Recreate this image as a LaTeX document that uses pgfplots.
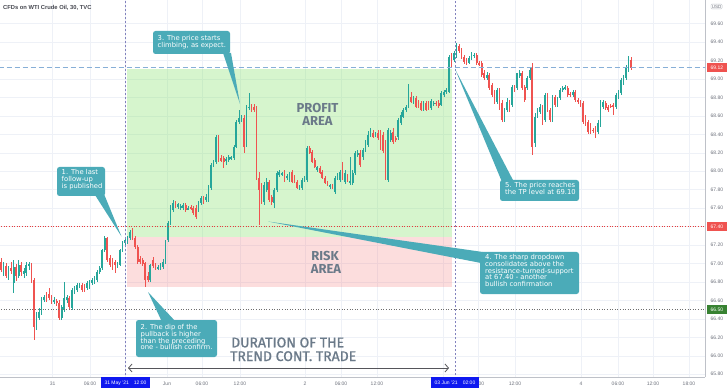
\documentclass[border=0pt]{standalone}
\usepackage{fontspec}
\setmainfont{Liberation Sans}
\newfontfamily\dejavu{DejaVu Sans}
\newfontfamily\fira{Fira Sans}
\newfontfamily\firamed{Fira Sans}[FakeBold=1]
\usepackage{pgfplots}
\pgfplotsset{compat=1.18}
\usepackage{pgfplotstable}
\usetikzlibrary{arrows.meta}

\definecolor{upc}{RGB}{38,166,154}
\definecolor{dnc}{RGB}{239,83,80}
\definecolor{gridc}{RGB}{238,241,247}
\definecolor{axisc}{RGB}{190,193,200}
\definecolor{tickc}{RGB}{110,114,125}
\definecolor{profitc}{RGB}{120,225,90}
\definecolor{riskc}{RGB}{245,120,120}
\definecolor{callc}{RGB}{75,171,184}
\definecolor{bigtxt}{RGB}{107,122,137}
\definecolor{tpc}{RGB}{135,175,215}
\definecolor{srred}{RGB}{230,60,60}
\definecolor{vlc}{RGB}{130,130,190}
\definecolor{arrc}{RGB}{85,85,90}
\definecolor{bluelab}{RGB}{15,25,240}
\definecolor{redlab}{RGB}{239,83,80}
\definecolor{greenlab}{RGB}{56,130,50}
\definecolor{titlec}{RGB}{70,72,80}
\definecolor{suppc}{RGB}{110,110,110}

\newcommand\cf{\dejavu\fontsize{6.8}{6.7}\selectfont}

\pgfplotstableread{
k o h l c
-49 67.02 67.06 66.91 66.93
-48 66.91 67.02 66.87 66.98
-47 66.97 67.01 66.84 66.87
-46 66.86 66.97 66.82 66.95
-45 66.95 67.02 66.89 66.92
-44 66.79 67.04 66.68 66.96
-43 66.96 66.99 66.81 66.86
-42 66.86 67.04 66.84 66.98
-41 66.98 67.02 66.87 66.91
-40 66.89 66.95 66.84 66.92
-39 66.90 67.02 66.86 66.98
-38 66.97 67.02 66.93 66.99
-37 66.99 67.01 66.79 66.82
-36 66.82 66.84 66.17 66.31
-35 66.31 66.47 66.28 66.44
-34 66.41 66.52 66.39 66.47
-33 66.46 66.64 66.44 66.60
-32 66.60 66.66 66.58 66.64
-31 66.64 66.69 66.58 66.60
-30 66.67 66.73 66.60 66.63
-29 66.64 66.66 66.56 66.58
-28 66.58 66.64 66.56 66.60
-27 66.59 66.61 66.54 66.57
-26 66.57 66.60 66.39 66.41
-25 66.41 66.55 66.39 66.53
-24 66.50 66.80 66.47 66.63
-23 66.60 66.66 66.57 66.64
-22 66.63 66.65 66.51 66.53
-21 66.52 66.73 66.50 66.71
-20 66.69 66.76 66.67 66.73
-19 66.71 66.79 66.69 66.77
-18 66.76 66.79 66.73 66.77
-17 66.77 66.79 66.69 66.71
-16 66.76 66.78 66.69 66.71
-15 66.73 66.81 66.71 66.79
-14 66.75 66.82 66.72 66.80
-13 66.79 66.84 66.77 66.82
-12 66.80 66.86 66.78 66.84
-11 66.82 66.93 66.80 66.91
-10 66.91 66.97 66.89 66.95
-9 66.95 67.16 66.93 67.15
-8 67.15 67.30 67.12 67.28
-7 67.28 67.29 67.02 67.04
-6 67.06 67.09 66.96 66.98
-5 67.04 67.06 66.93 66.96
-4 67.02 67.04 66.90 66.98
-3 66.97 67.02 66.95 66.99
-2 66.98 67.16 66.97 67.15
-1 67.15 67.24 67.12 67.22
0 67.22 67.29 67.20 67.25
1 67.23 67.30 67.21 67.28
2 67.28 67.36 67.25 67.34
3 67.34 67.38 67.25 67.28
4 67.28 67.30 67.16 67.18
5 67.18 67.20 66.99 67.02
6 67.05 67.08 66.99 67.02
7 67.04 67.06 66.97 66.99
8 67.01 67.02 66.75 66.82
9 66.87 66.91 66.80 66.82
10 66.82 66.99 66.80 66.98
11 67.04 67.07 66.95 66.97
12 66.98 67.01 66.93 66.95
13 66.95 66.98 66.93 66.96
14 66.95 67.01 66.93 66.98
15 66.96 67.05 66.94 67.02
16 67.02 67.25 66.99 67.23
17 67.25 67.46 67.23 67.44
18 67.44 67.63 67.42 67.61
19 67.58 67.69 67.56 67.66
20 67.66 67.68 67.60 67.62
21 67.61 67.66 67.59 67.64
22 67.60 67.65 67.58 67.62
23 67.60 67.66 67.58 67.63
24 67.63 67.66 67.56 67.58
25 67.59 67.62 67.58 67.60
26 67.61 67.63 67.58 67.60
27 67.60 67.62 67.53 67.55
28 67.60 67.63 67.48 67.50
29 67.58 67.68 67.56 67.66
30 67.66 67.73 67.63 67.71
31 67.71 67.73 67.65 67.67
32 67.69 67.75 67.67 67.72
33 67.69 67.85 67.67 67.83
34 67.82 68.09 67.80 68.07
35 68.07 68.12 68.05 68.10
36 68.10 68.39 68.08 68.37
37 68.37 68.39 68.10 68.12
38 68.14 68.18 68.10 68.11
39 68.14 68.17 68.04 68.10
40 68.12 68.15 68.07 68.13
41 68.12 68.18 68.10 68.15
42 68.14 68.17 68.12 68.15
43 68.14 68.28 68.12 68.26
44 68.26 68.56 68.25 68.53
45 68.53 68.66 68.51 68.58
46 68.57 68.61 68.53 68.58
47 68.58 68.61 68.20 68.26
48 68.28 68.72 68.26 68.70
49 68.69 68.85 68.66 68.70
50 68.70 68.73 68.64 68.67
51 68.70 68.73 68.64 68.66
52 68.69 68.71 67.90 67.93
53 67.93 67.99 67.42 67.80
54 67.83 67.87 67.65 67.67
55 67.67 67.88 67.63 67.85
56 67.80 67.93 67.78 67.88
57 67.88 67.91 67.67 67.69
58 67.72 67.74 67.63 67.67
59 67.66 67.82 67.60 67.80
60 67.80 68.00 67.78 67.98
61 67.96 68.01 67.94 67.99
62 67.97 67.99 67.95 67.98
63 67.98 68.01 67.88 67.91
64 67.93 67.97 67.91 67.95
65 67.91 67.99 67.88 67.98
66 67.99 68.01 67.87 67.88
67 67.94 67.96 67.87 67.88
68 67.88 67.91 67.81 67.82
69 67.82 67.85 67.80 67.83
70 67.82 67.93 67.80 67.91
71 67.91 67.95 67.88 67.93
72 67.91 68.27 67.88 68.25
73 68.25 68.27 68.19 68.20
74 68.21 68.23 68.09 68.10
75 68.12 68.14 68.04 68.05
76 68.01 68.06 67.99 68.05
77 68.04 68.06 67.97 67.98
78 67.99 68.01 67.92 67.93
79 67.93 67.95 67.86 67.87
80 67.87 67.89 67.84 67.85
81 67.83 67.86 67.81 67.85
82 67.85 67.86 67.81 67.82
83 67.78 67.95 67.75 67.93
84 67.93 67.98 67.91 67.96
85 67.91 68.01 67.88 67.99
86 67.98 68.10 67.91 67.92
87 67.88 68.01 67.86 67.98
88 67.94 67.97 67.88 67.91
89 67.87 68.15 67.85 67.89
90 67.87 68.01 67.85 67.98
91 67.98 68.22 67.96 68.20
92 68.18 68.23 68.15 68.20
93 68.20 68.23 68.05 68.07
94 68.15 68.25 68.12 68.23
95 68.23 68.34 68.21 68.31
96 68.28 68.44 68.26 68.39
97 68.39 68.47 68.37 68.45
98 68.41 68.45 68.36 68.37
99 68.39 68.43 68.37 68.41
100 68.41 68.45 68.34 68.36
101 68.41 68.45 68.23 68.26
102 68.39 68.43 68.20 68.22
103 68.20 68.34 67.90 67.93
104 67.90 68.47 67.88 68.45
105 68.34 68.45 68.32 68.41
106 68.43 68.47 68.30 68.32
107 68.36 68.38 68.32 68.34
108 68.37 68.58 68.34 68.56
109 68.52 68.64 68.50 68.61
110 68.59 68.69 68.58 68.66
111 68.66 68.72 68.64 68.70
112 68.70 68.95 68.69 68.81
113 68.81 68.86 68.74 68.75
114 68.75 68.82 68.73 68.79
115 68.79 68.82 68.69 68.70
116 68.75 68.77 68.69 68.71
117 68.74 68.76 68.65 68.66
118 68.66 68.76 68.65 68.74
119 68.74 68.76 68.65 68.66
120 68.74 68.76 68.66 68.67
121 68.69 68.78 68.66 68.76
122 68.73 68.76 68.71 68.74
123 68.74 68.76 68.71 68.73
124 68.74 68.77 68.69 68.71
125 68.72 68.87 68.71 68.85
126 68.83 68.88 68.81 68.86
127 68.86 68.90 68.84 68.88
128 68.86 69.26 68.85 69.24
129 69.24 69.28 69.13 69.15
130 69.21 69.30 69.18 69.28
131 69.24 69.39 69.23 69.36
132 69.36 69.38 69.28 69.30
133 69.31 69.34 69.22 69.24
134 69.24 69.26 69.16 69.18
135 69.21 69.23 69.15 69.17
136 69.17 69.25 69.16 69.23
137 69.23 69.29 69.21 69.27
138 69.25 69.28 69.23 69.26
139 69.26 69.28 69.15 69.17
140 69.17 69.20 69.14 69.16
141 69.17 69.20 69.02 69.04
142 69.07 69.10 68.99 69.01
143 69.01 69.08 68.99 69.04
144 69.04 69.07 68.88 68.90
145 68.93 68.96 68.81 68.83
146 68.85 68.88 68.73 68.75
147 68.75 68.90 68.73 68.88
148 68.88 68.90 68.66 68.70
149 68.74 68.77 68.53 68.56
150 68.56 68.69 68.53 68.66
151 68.66 68.79 68.64 68.75
152 68.74 68.77 68.64 68.66
153 68.72 68.93 68.70 68.91
154 68.91 68.93 68.86 68.88
155 68.90 69.07 68.88 69.06
156 69.03 69.10 69.01 69.06
157 69.06 69.09 68.88 68.90
158 68.91 68.93 68.75 68.77
159 68.90 69.03 68.88 69.01
160 69.01 69.13 68.99 69.10
161 69.13 69.17 68.18 68.26
162 68.31 68.63 68.26 68.59
163 68.61 68.69 68.58 68.66
164 68.64 68.73 68.62 68.70
165 68.69 68.72 68.50 68.56
166 68.56 68.85 68.53 68.83
167 68.83 68.85 68.64 68.66
168 68.66 68.69 68.53 68.56
169 68.56 68.83 68.53 68.81
170 68.81 68.83 68.70 68.72
171 68.72 68.81 68.70 68.78
172 68.79 68.90 68.77 68.88
173 68.88 68.92 68.86 68.90
174 68.89 68.93 68.88 68.91
175 68.90 68.92 68.81 68.83
176 68.84 68.86 68.81 68.83
177 68.83 68.88 68.81 68.86
178 68.86 68.88 68.75 68.77
179 68.77 68.79 68.73 68.75
180 68.75 68.77 68.70 68.72
181 68.74 68.76 68.51 68.53
182 68.59 68.61 68.49 68.52
183 68.53 68.55 68.40 68.43
184 68.50 68.52 68.40 68.43
185 68.45 68.47 68.41 68.44
186 68.47 68.49 68.36 68.43
187 68.43 68.56 68.40 68.52
188 68.50 68.77 68.48 68.75
189 68.70 68.77 68.67 68.75
190 68.74 68.76 68.66 68.69
191 68.70 68.72 68.64 68.66
192 68.71 68.73 68.69 68.70
193 68.72 68.74 68.61 68.70
194 68.70 68.85 68.67 68.83
195 68.81 68.88 68.78 68.86
196 68.85 69.01 68.83 68.99
197 68.97 69.04 68.94 69.02
198 69.01 69.15 68.99 69.13
199 69.10 69.25 69.08 69.23
200 69.21 69.24 69.10 69.12
}\candles

\begin{document}
\begin{tikzpicture}
\useasboundingbox (0pt,-14pt) rectangle (728pt,377pt);
\fill[white] (0pt,-14pt) rectangle (728pt,377pt);
\begin{axis}[
  at={(0pt,0pt)}, anchor=south west,
  scale only axis, width=705pt, height=377pt,
  xmin=-49.41, xmax=229.25, ymin=65.770, ymax=69.856,
  axis x line*=bottom, axis y line*=right,
  axis line style={draw=axisc, line width=0.6pt, -},
  major tick length=0pt,
  grid=major, major grid style={draw=gridc, line width=0.5pt},
  xtick={-28.58,-13.83,0,16.60,30.43,45.45,71.15,85.38,99.60,125.7,139.53,154.15,180.24,194.86,208.70,222.92},
  xticklabels={31,06:00,,Jun,06:00,12:00,2,06:00,12:00,,06:00,12:00,4,06:00,12:00,18:00},
  xticklabel style={font=\fontsize{5}{6}\selectfont, text=tickc, anchor=center, yshift=-7pt},
  ytick={65.8,66.0,...,69.6},
  /pgf/number format/assume math mode=true,
  yticklabel={\pgfmathprintnumber[fixed,fixed zerofill,precision=2,assume math mode=true]{\tick}},
  yticklabel style={font=\fontsize{5}{6}\selectfont, text=tickc, anchor=center, xshift=11.8pt},
]
\fill[profitc, fill opacity=0.3] (axis cs:0.79,69.108) rectangle (axis cs:129.25,67.287);
\fill[riskc, fill opacity=0.25] (axis cs:0.79,67.287) rectangle (axis cs:129.25,66.745);

% wicks
\addplot[draw=none, forget plot, error bars/.cd, y dir=both, y explicit, error mark=none,
  error bar style={draw=upc, line width=0.55pt}]
  table[x=k, y expr={\thisrow{c}>=\thisrow{o} ? 0.5*(\thisrow{h}+\thisrow{l}) : nan},
        y error expr={0.5*(\thisrow{h}-\thisrow{l})}] {\candles};
\addplot[draw=none, forget plot, error bars/.cd, y dir=both, y explicit, error mark=none,
  error bar style={draw=dnc, line width=0.55pt}]
  table[x=k, y expr={\thisrow{c}<\thisrow{o} ? 0.5*(\thisrow{h}+\thisrow{l}) : nan},
        y error expr={0.5*(\thisrow{h}-\thisrow{l})}] {\candles};
% bodies
\addplot[draw=none, forget plot, error bars/.cd, y dir=both, y explicit, error mark=none,
  error bar style={draw=upc, line width=1.7pt}]
  table[x=k, y expr={\thisrow{c}>=\thisrow{o} ? 0.5*(\thisrow{o}+\thisrow{c}) : nan},
        y error expr={max(0.5*abs(\thisrow{c}-\thisrow{o}),0.005)}] {\candles};
\addplot[draw=none, forget plot, error bars/.cd, y dir=both, y explicit, error mark=none,
  error bar style={draw=dnc, line width=1.7pt}]
  table[x=k, y expr={\thisrow{c}<\thisrow{o} ? 0.5*(\thisrow{o}+\thisrow{c}) : nan},
        y error expr={max(0.5*abs(\thisrow{c}-\thisrow{o}),0.005)}] {\candles};

\draw[tpc, line width=0.9pt, dash pattern=on 5pt off 3pt] (axis cs:-50,69.12) -- (axis cs:230,69.12);
\draw[srred, line width=0.7pt, dash pattern=on 1pt off 1.6pt] (axis cs:-50,67.40) -- (axis cs:230,67.40);
\draw[suppc, line width=0.7pt, dash pattern=on 1pt off 1.6pt] (axis cs:-50,66.50) -- (axis cs:230,66.50);
\draw[vlc, line width=0.6pt, dash pattern=on 2pt off 2pt] (axis cs:0,65.7) -- (axis cs:0,70);
\draw[vlc, line width=0.6pt, dash pattern=on 2pt off 2pt] (axis cs:130.43,65.7) -- (axis cs:130.43,70);
\end{axis}

\begin{scope}[yshift=377pt, x=1pt, y=-1pt]
% title
\node[anchor=west, inner sep=0pt, text=titlec, font=\bfseries\fontsize{5.8}{7}\selectfont] at (3,7.5) {CFDs on WTI Crude Oil, 30, TVC};
\node[draw=axisc, line width=0.4pt, rounded corners=1pt, inner sep=0.8pt, text=tickc, font=\fontsize{4.5}{5}\selectfont] at (716.5,6.5) {USD};

% zone labels
\node[anchor=base, inner sep=0pt, text=bigtxt, font=\fira\bfseries\fontsize{13}{14}\selectfont] at (317.5,112.3) {PROFIT};
\node[anchor=base, inner sep=0pt, text=bigtxt, font=\fira\bfseries\fontsize{13}{14}\selectfont] at (317.5,125.7) {AREA};
\node[anchor=base, inner sep=0pt, text=bigtxt, font=\fira\bfseries\fontsize{13}{14}\selectfont] at (325,260.6) {RISK};
\node[anchor=base, inner sep=0pt, text=bigtxt, font=\fira\bfseries\fontsize{13}{14}\selectfont] at (326,274) {AREA};
\node[anchor=base west, inner sep=0pt, text=bigtxt, font=\firamed\fontsize{14}{15}\selectfont] at (231,347.3) {DURATION OF THE};
\node[anchor=base west, inner sep=0pt, text=bigtxt, font=\firamed\fontsize{14}{15}\selectfont] at (230,361) {TREND CONT. TRADE};

% duration arrow
\draw[arrc, line width=0.8pt, {Straight Barb[length=3.5pt,width=8pt]}-{Straight Barb[length=3.5pt,width=8pt]}] (128,368) -- (449,368);

% callout 1
\fill[callc] (95,195) -- (104,194) -- (121.5,236.5) -- cycle;
\fill[callc, rounded corners=2.5pt] (57,167) rectangle (105,196);
\node[anchor=north west, inner sep=0pt, text=white, align=left, font=\cf] at (61.5,169.5) {1. The last\\follow-up\\is published};
% callout 2
\fill[callc] (162,322) -- (176,322) -- (148,292) -- cycle;
\fill[callc, rounded corners=2.5pt] (136,320) rectangle (217,357);
\node[anchor=north west, inner sep=0pt, text=white, align=left, font=\cf] at (140.5,324.5) {2. The dip of the\\pullback is higher\\than the preceding\\one - bullish confirm.};
% callout 3
\fill[callc] (223,53) -- (231,53) -- (240,104) -- cycle;
\fill[callc, rounded corners=2.5pt] (153,31) rectangle (230,54);
\node[anchor=north west, inner sep=0pt, text=white, align=left, font=\cf] at (157.5,35) {3. The price starts\\climbing, as expect.};
% callout 4
\fill[callc] (268,221.5) -- (490,253) -- (481,263) -- cycle;
\fill[callc, rounded corners=2.5pt] (480,252) rectangle (579,294);
\node[anchor=north west, inner sep=0pt, text=white, align=left, font=\cf] at (485,254.5) {4. The sharp dropdown\\consolidates above the\\resistance-turned-support\\at 67.40 - another\\bullish confirmation};
% callout 5
\fill[callc] (455,69) -- (502,182) -- (514,182) -- cycle;
\fill[callc, rounded corners=2.5pt] (500,180) rectangle (579,201);
\node[anchor=north west, inner sep=0pt, text=white, align=left, font=\cf] at (505,182.5) {5. The price reaches\\the TP level at 69.10};

% time labels
\node[fill=bluelab, text=white, inner sep=0pt, minimum width=49pt, minimum height=11pt, font=\fontsize{5}{6}\selectfont] at (125.5,382.8) {31 May '21\hspace{5pt}12:00};
\node[fill=bluelab, text=white, inner sep=0pt, minimum width=48pt, minimum height=11pt, font=\fontsize{5}{6}\selectfont] at (455,382.8) {03 Jun '21\hspace{5pt}02:00};

% price labels
\node[fill=redlab, text=white, inner sep=0pt, minimum width=20.5pt, minimum height=9pt, font=\fontsize{5}{6}\selectfont] at (716.8,68) {69.12};
\node[fill=redlab, text=white, inner sep=0pt, minimum width=20.5pt, minimum height=9pt, font=\fontsize{5}{6}\selectfont] at (716.8,226.7) {67.40};
\node[fill=greenlab, text=white, inner sep=0pt, minimum width=20.5pt, minimum height=9pt, font=\fontsize{5}{6}\selectfont] at (716.8,309.5) {66.50};
\end{scope}
\end{tikzpicture}
\end{document}
